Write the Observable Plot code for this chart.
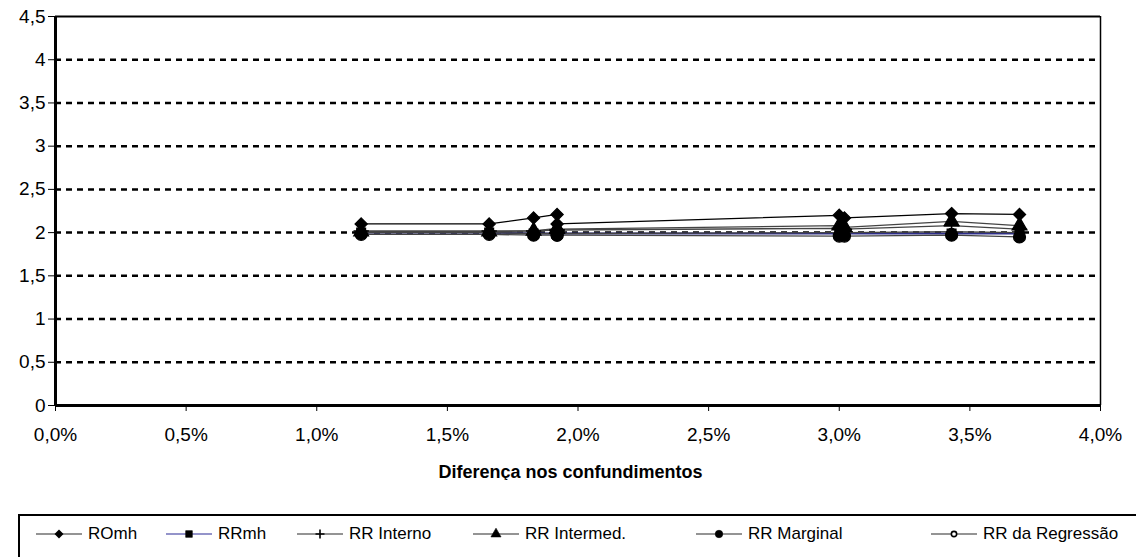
<!DOCTYPE html>
<html>
<head>
<meta charset="utf-8">
<script src="https://cdn.jsdelivr.net/npm/d3@7"></script>
<script src="https://cdn.jsdelivr.net/npm/@observablehq/plot@0.6"></script>
<style>
  body { margin: 0; background: #fff; font-family: "Liberation Sans", Arial, sans-serif; }
  #wrap { position: relative; width: 1136px; height: 557px; overflow: hidden; }
  #legend { position: absolute; left: 18px; top: 514px; width: 1140px; height: 60px; border: 2px solid #000; box-sizing: border-box; }
  .item { position: absolute; top: 8px; display: flex; align-items: center; font-size: 17px; color: #000; }
  .item svg { margin-right: 5px; }
</style>
</head>
<body>
<div id="wrap">
  <div id="chart"></div>
  <div id="legend"></div>
</div>
<script>
// Diferença nos confundimentos (%)
const xValues = [1.17, 1.66, 1.83, 1.92, 1.92, 3.00, 3.02, 3.43, 3.69];
const seriesNames = ["ROmh", "RRmh", "RR Interno", "RR Intermed.", "RR Marginal", "RR da Regressão"];
const ROmh        = [2.10, 2.10, 2.17, 2.21, 2.10, 2.20, 2.17, 2.22, 2.21];
const RRmh        = [2.00, 2.00, 1.99, 1.99, 1.99, 1.99, 1.99, 1.99, 1.99];
const RRInterno   = [2.02, 2.02, 2.02, 2.03, 2.03, 2.05, 2.04, 2.08, 2.04];
const RRIntermed  = [2.01, 2.01, 2.02, 2.05, 2.04, 2.08, 2.06, 2.13, 2.08];
const RRMarginal  = [1.98, 1.98, 1.97, 1.97, 1.97, 1.96, 1.96, 1.97, 1.95];
const RRRegressao = [2.00, 2.00, 1.99, 1.99, 1.99, 2.00, 2.00, 2.01, 2.00];
const yTicks = [0, 0.5, 1, 1.5, 2, 2.5, 3, 3.5, 4, 4.5];
const xTicks = [0, 0.5, 1, 1.5, 2, 2.5, 3, 3.5, 4];
const xLabel = "Diferença nos confundimentos";

const seriesValues = [ROmh, RRmh, RRInterno, RRIntermed, RRMarginal, RRRegressao];
const styles = {
  "ROmh":            {stroke: "#000000", symbol: "diamond2", fill: "#000", r: 5.5},
  "RRmh":            {stroke: "#2e2e8a", symbol: "square",   fill: "#000", r: 5},
  "RR Interno":      {stroke: "#444444", symbol: "plus",     fill: "none", r: 5},
  "RR Intermed.":    {stroke: "#444444", symbol: "triangle", fill: "#000", r: 5.5},
  "RR Marginal":     {stroke: "#444444", symbol: "circle",   fill: "#000", r: 6},
  "RR da Regressão": {stroke: "#444444", symbol: "circle",   fill: "#fff", r: 3.5}
};
const data = [];
seriesNames.forEach((s, i) => xValues.forEach((x, j) => data.push({series: s, x, y: seriesValues[i][j], order: j})));

const fmtY = d => String(d).replace(".", ",");
const fmtX = d => d.toFixed(1).replace(".", ",") + "%";

const marks = [
  Plot.ruleY(yTicks.filter(d => d > 0 && d < 4.5), {stroke: "#000", strokeWidth: 2.5, strokeDasharray: "6,5"}),
  Plot.ruleY([4.5], {stroke: "#000", strokeWidth: 2}),
  Plot.ruleX([4], {stroke: "#000", strokeWidth: 1.5}),
  Plot.axisY({ticks: yTicks, tickFormat: fmtY, tickSize: 7, tickPadding: 3, fontSize: 19, label: null}),
  Plot.axisX({ticks: xTicks, tickFormat: fmtX, tickSize: 6, tickPadding: 16, fontSize: 19, label: null}),
  Plot.ruleX([0], {stroke: "#000", strokeWidth: 3}),
  Plot.ruleY([0], {stroke: "#000", strokeWidth: 3}),
  ...seriesNames.map(s => Plot.line(data.filter(d => d.series === s), {x: "x", y: "y", stroke: styles[s].stroke, strokeWidth: s === "RRmh" ? 1.8 : 1.3})),
  ...seriesNames.slice().reverse().map(s => Plot.dot(data.filter(d => d.series === s), {
    x: "x", y: "y", symbol: styles[s].symbol, r: styles[s].r,
    fill: styles[s].fill, stroke: "#000", strokeWidth: styles[s].symbol === "plus" ? 1.5 : 1.2
  })),
  Plot.text([xLabel], {frameAnchor: "bottom", text: d => d, fontSize: 18, fontWeight: "bold", fill: "#000"})
];

const chart = Plot.plot({
  width: 1136,
  height: 480,
  marginLeft: 55,
  marginRight: 36,
  marginTop: 16,
  marginBottom: 75,
  style: {fontFamily: "Liberation Sans, Arial, sans-serif", fontSize: "19px", color: "#000", background: "#fff"},
  x: {domain: [0, 4]},
  y: {domain: [0, 4.5]},
  marks
});
document.getElementById("chart").appendChild(chart);

// position x-axis title
d3.select(chart).selectAll("text").filter(function(){ return this.textContent === xLabel; })
  .attr("transform", null).attr("x", 570).attr("y", 477).attr("text-anchor", "middle");

// legend
const legend = document.getElementById("legend");
const textStarts = [88, 218, 349, 525, 748, 983];
seriesNames.forEach((s, i) => {
  const st = styles[s];
  const item = document.createElement("div");
  item.className = "item";
  item.style.left = (textStarts[i] - 18 - 2 - 53) + "px";
  const sw = d3.create("svg").attr("width", 48).attr("height", 18);
  sw.append("line").attr("x1", 1).attr("x2", 47).attr("y1", 9).attr("y2", 9)
    .attr("stroke", s === "RRmh" ? "#7070b8" : "#707070").attr("stroke-width", 1.3);
  if (st.symbol === "plus") {
    sw.append("path").attr("d", "M24,4.5V13.5M19.5,9H28.5").attr("stroke", "#000").attr("stroke-width", 1.6);
  } else if (st.symbol === "diamond2") {
    sw.append("path").attr("d", "M24,4.5L28.5,9L24,13.5L19.5,9Z").attr("fill", "#000");
  } else {
    const sym = d3.symbol().type({square: d3.symbolSquare, triangle: d3.symbolTriangle, circle: d3.symbolCircle}[st.symbol])
      .size(s === "RR da Regressão" ? 22 : 44);
    sw.append("path").attr("d", sym()).attr("transform", "translate(24,9)")
      .attr("fill", st.fill === "#fff" ? "#fff" : "#000").attr("stroke", "#000")
      .attr("stroke-width", s === "RR da Regressão" ? 1.6 : 0.6);
  }
  item.appendChild(sw.node());
  const lab = document.createElement("span");
  lab.textContent = s;
  item.appendChild(lab);
  legend.appendChild(item);
});
</script>
</body>
</html>
